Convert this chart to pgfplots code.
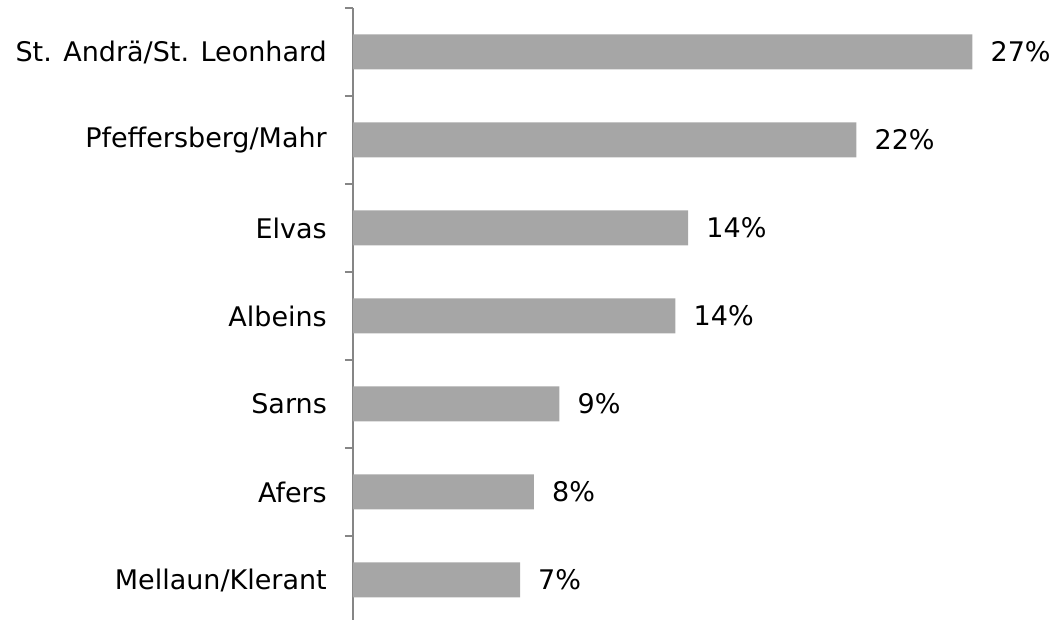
\documentclass[border=0pt]{standalone}
\usepackage{pgfplots}
\pgfplotsset{compat=1.18}
\usepackage{fontspec}
\setmainfont{DejaVu Sans}
\definecolor{barc}{HTML}{A6A6A6}
\definecolor{axc}{HTML}{868686}
\begin{document}
\begin{tikzpicture}
\begin{axis}[
  scale only axis, width=696pt, height=616pt,
  xmin=0, xmax=30, ymin=-0.5, ymax=6.5,
  axis x line=none, axis y line*=left,
  ytick={0,...,6},
  yticklabels={Mellaun/Klerant, Afers, Sarns, Albeins, Elvas, Pfeffersberg/Mahr, St. Andrä/St. Leonhard},
  minor ytick={-0.5,0.5,...,6.5},
  major tick length=0pt, minor tick length=8pt, tick align=outside,
  y axis line style={draw=axc, line width=1.5pt},
  every tick/.style={draw=axc, line width=1.5pt},
  ticklabel style={font=\fontsize{27}{32}\selectfont},
  yticklabel style={inner sep=0pt, xshift=-26pt},
  xbar, bar width=35pt,
  point meta=x,
  nodes near coords={\pgfmathprintnumber[fixed,precision=0,assume math mode=true]{\pgfplotspointmeta}\%},
  nodes near coords style={anchor=west, inner sep=0pt, xshift=18pt, font=\fontsize{27}{32}\selectfont, black},
  clip=false,
]
\addplot[fill=barc, draw=none] coordinates {(7.2,0) (7.8,1) (8.9,2) (13.9,3) (14.45,4) (21.7,5) (26.7,6)};
\end{axis}
\pgfresetboundingbox
\path[use as bounding box] (-353pt,4pt) rectangle (703pt,624pt);
\end{tikzpicture}
\end{document}
